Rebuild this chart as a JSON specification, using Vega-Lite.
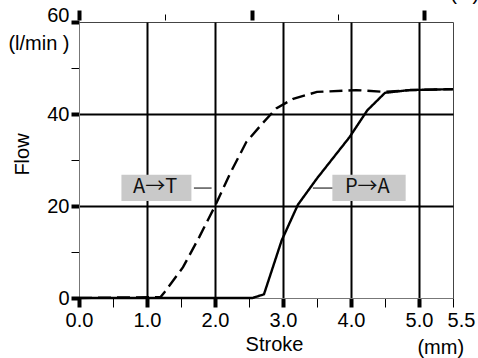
{
  "$schema": "https://vega.github.io/schema/vega-lite/v6.json",
  "width": 374,
  "height": 276,
  "autosize": "none",
  "padding": {"left": 79, "top": 22, "right": 25, "bottom": 60},
  "background": "white",
  "config": {
    "font": "Liberation Sans",
    "view": {"stroke": "#444", "strokeWidth": 1},
    "axis": {
      "labelFont": "Liberation Sans",
      "titleFont": "Liberation Sans",
      "labelColor": "black",
      "titleColor": "black",
      "labelFontSize": 20,
      "titleFontSize": 20,
      "titleFontWeight": "normal",
      "tickColor": "black",
      "domainColor": "#777",
      "gridColor": "black",
      "gridWidth": 2,
      "labelFlush": false
    }
  },
  "datasets": {
    "curves": [
      {"stroke": 0, "flow": 0, "series": "A→T"},
      {"stroke": 1.2, "flow": 0.2, "series": "A→T"},
      {"stroke": 1.26, "flow": 1.3, "series": "A→T"},
      {"stroke": 1.53, "flow": 6.7, "series": "A→T"},
      {"stroke": 1.77, "flow": 13.3, "series": "A→T"},
      {"stroke": 2.0, "flow": 20, "series": "A→T"},
      {"stroke": 2.22, "flow": 27, "series": "A→T"},
      {"stroke": 2.46, "flow": 33.9, "series": "A→T"},
      {"stroke": 2.7, "flow": 38.0, "series": "A→T"},
      {"stroke": 2.9, "flow": 41.2, "series": "A→T"},
      {"stroke": 3.15, "flow": 43.3, "series": "A→T"},
      {"stroke": 3.5, "flow": 44.8, "series": "A→T"},
      {"stroke": 4.08, "flow": 45.2, "series": "A→T"},
      {"stroke": 4.5, "flow": 44.8, "series": "A→T"},
      {"stroke": 4.86, "flow": 45.2, "series": "A→T"},
      {"stroke": 5.5, "flow": 45.4, "series": "A→T"},
      {"stroke": 0, "flow": 0, "series": "P→A"},
      {"stroke": 2.55, "flow": 0, "series": "P→A"},
      {"stroke": 2.72, "flow": 0.8, "series": "P→A"},
      {"stroke": 2.98, "flow": 12.5, "series": "P→A"},
      {"stroke": 3.22, "flow": 20.3, "series": "P→A"},
      {"stroke": 3.5, "flow": 26, "series": "P→A"},
      {"stroke": 3.98, "flow": 35, "series": "P→A"},
      {"stroke": 4.24, "flow": 40.8, "series": "P→A"},
      {"stroke": 4.5, "flow": 44.6, "series": "P→A"},
      {"stroke": 4.86, "flow": 45.2, "series": "P→A"},
      {"stroke": 5.5, "flow": 45.4, "series": "P→A"}
    ],
    "labels": [
      {"label": "A→T", "bx1": 0.624, "bx2": 1.653, "by1": 21.1, "by2": 26.8, "tx": 1.12, "ty": 24.1, "lx1": 1.69, "lx2": 1.95, "ly": 23.9},
      {"label": "P→A", "bx1": 3.726, "bx2": 4.804, "by1": 21.1, "by2": 26.8, "tx": 4.24, "ty": 24.1, "lx1": 3.44, "lx2": 3.726, "ly": 23.9}
    ],
    "units": [
      {"text": "(mm)", "x": 5.32, "y": -10.9}
    ]
  },
  "layer": [
    {
      "data": {"name": "curves"},
      "mark": {"type": "line", "color": "black", "strokeWidth": 2.4},
      "encoding": {
        "x": {
          "field": "stroke", "type": "quantitative",
          "scale": {"domain": [0, 5.5], "nice": false, "zero": false},
          "axis": {
            "values": [0, 0.5, 1, 1.5, 2, 2.5, 3, 3.5, 4, 4.5, 5, 5.5],
            "labelExpr": "datum.value % 1 == 0 ? format(datum.value, '.1f') : (datum.value == 5.5 ? '5.5' : '')",
            "title": "Stroke",
            "titleX": 195,
            "titlePadding": 4,
            "tickSize": 9,
            "tickWidth": {"condition": {"test": "datum.value % 1 == 0", "value": 4}, "value": 1},
            "labelPadding": 3,
            "labelOffset": {"condition": {"test": "datum.value == 5.5", "value": 8}, "value": 0},
            "grid": true,
            "gridOpacity": {"condition": {"test": "datum.value % 1 == 0 && datum.value > 0", "value": 1}, "value": 0}
          }
        },
        "y": {
          "field": "flow", "type": "quantitative",
          "scale": {"domain": [0, 60], "nice": false},
          "axis": {
            "values": [0, 10, 20, 30, 40, 50, 60],
            "labelExpr": "datum.value == 60 ? ['60', '(l/min )'] : (datum.value % 20 == 0 ? datum.label : '')",
            "labelLineHeight": 28,
            "labelOffset": {"condition": {"test": "datum.value == 60", "value": -7}, "value": 0},
            "title": "Flow",
            "titleX": -57,
            "titleY": 132,
            "titleBaseline": "middle",
            "tickSize": 8,
            "tickWidth": {"condition": {"test": "datum.value % 20 == 0", "value": 4}, "value": 1},
            "labelPadding": 2,
            "grid": true,
            "gridOpacity": {"condition": {"test": "datum.value == 20 || datum.value == 40", "value": 1}, "value": 0}
          }
        },
        "strokeDash": {
          "field": "series", "type": "nominal",
          "scale": {"domain": ["A→T", "P→A"], "range": [[13, 6], [1, 0]]},
          "legend": null
        }
      }
    },
    {
      "data": {"name": "labels"},
      "mark": {"type": "rect", "color": "#c9c9c9"},
      "encoding": {
        "x": {
          "field": "bx1", "type": "quantitative",
          "axis": {
            "orient": "top",
            "values": [0, 1.27, 2.54, 3.81, 5.08],
            "labelExpr": "datum.value == 2.54 ? '0.1' : (datum.value == 5.08 ? '0.2  (in)' : '')",
            "labelAlign": "left",
            "labelOffset": -8,
            "labelPadding": 7,
            "offset": 2,
            "domain": false,
            "grid": false,
            "title": null,
            "tickSize": {"condition": {"test": "datum.value == 0 || datum.value == 2.54 || datum.value == 5.08", "value": 10}, "value": 6},
            "tickWidth": {"condition": {"test": "datum.value == 0 || datum.value == 2.54 || datum.value == 5.08", "value": 4}, "value": 1}
          }
        },
        "x2": {"field": "bx2"},
        "y": {"field": "by1", "type": "quantitative"},
        "y2": {"field": "by2"}
      }
    },
    {
      "data": {"name": "labels"},
      "mark": {"type": "rule", "color": "black", "strokeWidth": 1},
      "encoding": {
        "x": {"field": "lx1", "type": "quantitative", "axis": null},
        "x2": {"field": "lx2"},
        "y": {"field": "ly", "type": "quantitative"}
      }
    },
    {
      "data": {"name": "labels"},
      "mark": {"type": "text", "fontSize": 20, "align": "center", "baseline": "middle", "color": "#111", "font": "Noto Sans CJK JP"},
      "encoding": {
        "x": {"field": "tx", "type": "quantitative", "axis": null},
        "y": {"field": "ty", "type": "quantitative"},
        "text": {"field": "label"}
      }
    },
    {
      "data": {"name": "units"},
      "mark": {"type": "text", "fontSize": 20, "align": "center", "baseline": "middle", "color": "black", "clip": false},
      "encoding": {
        "x": {"field": "x", "type": "quantitative", "axis": null},
        "y": {"field": "y", "type": "quantitative"},
        "text": {"field": "text"}
      }
    }
  ],
  "resolve": {"axis": {"x": "independent"}}
}
